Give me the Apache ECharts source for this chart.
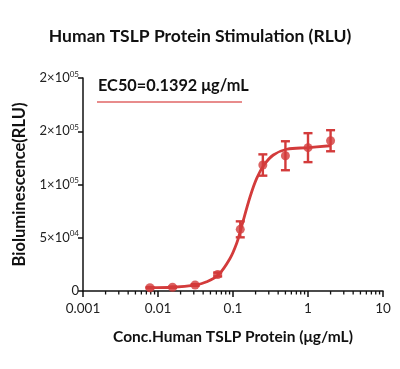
<!DOCTYPE html>
<html><head><meta charset="utf-8">
<script src="https://cdn.jsdelivr.net/npm/echarts@6/dist/echarts.min.js"></script>
<style>html,body{margin:0;padding:0;background:#fff}#c{width:400px;height:369px}</style>
</head><body><div id="c"></div>
<script>
// ---- data ----
const concentrations = [0.0078125, 0.015625, 0.03125, 0.0625, 0.125, 0.25, 0.5, 1, 2];
const meanRLU = [3100, 3500, 5600, 15500, 57900, 118300, 127000, 134600, 141100];
const errRLU = [600, 600, 800, 1800, 7500, 10000, 13600, 13600, 9900];
// fitted curve
const curveX = [0.0078, 0.0157, 0.0311, 0.0446, 0.0637, 0.0912, 0.112, 0.127, 0.169, 0.207, 0.259, 0.345, 0.52, 1.01, 1.96];
const curveY = [3100, 3500, 5600, 8700, 15000, 30500, 44800, 57900, 88500, 105800, 118300, 127700, 133100, 134600, 136400];
const yTickValues = [0, 50000, 100000, 150000, 200000];
const yTickLabels = ['0', '5×10{s|04}', '1×10{s|05}', '2×10{s|05}', '2×10{s|05}'];
const xTickValues = [0.001, 0.01, 0.1, 1, 10];
const xTickLabels = ['0.001', '0.01', '0.1', '1', '10'];
const minorTickValues = [];
[0.001, 0.01, 0.1, 1].forEach(d => { for (let m = 2; m <= 9; m++) minorTickValues.push(+(m * d).toPrecision(3)); });
const titleText = 'Human TSLP Protein Stimulation (RLU)';
const ec50Text = 'EC50=0.1392 μg/mL';
const xName = 'Conc.Human TSLP Protein (μg/mL)';
const yName = 'Bioluminescence(RLU)';

const RED = '#d33b3b';
const FONT = 'Lato';

const chart = echarts.init(document.getElementById('c'), null, {renderer: 'canvas'});
chart.setOption({
  animation: false,
  backgroundColor: '#fff',
  textStyle: {fontFamily: FONT},
  title: {
    text: titleText, left: 'center', top: 22,
    textStyle: {fontFamily: FONT, fontWeight: 'bold', fontSize: 17.5, color: '#111'}
  },
  grid: {left: 83, right: 17, top: 78, bottom: 78},
  xAxis: {
    type: 'log', logBase: 10, min: 0.001, max: 10,
    name: xName, nameLocation: 'middle', nameGap: 38,
    nameTextStyle: {fontFamily: FONT, fontWeight: 'bold', fontSize: 15.5, color: '#111'},
    axisLine: {lineStyle: {color: '#111', width: 1.5}},
    axisTick: {length: 6, lineStyle: {color: '#111', width: 1.5}},
    axisLabel: {
      fontSize: 13.5, color: '#222', margin: 11,
      formatter: v => { const i = xTickValues.findIndex(t => Math.abs(Math.log10(t) - Math.log10(v)) < 1e-6); return i >= 0 ? xTickLabels[i] : ''; }
    },
    splitLine: {show: false}
  },
  yAxis: {
    type: 'value', min: 0, max: 200000, interval: 50000,
    name: yName, nameLocation: 'middle', nameGap: 48, nameRotate: 90,
    nameTextStyle: {fontFamily: FONT, fontWeight: 'bold', fontSize: 16.5, color: '#111'},
    axisLine: {show: true, lineStyle: {color: '#111', width: 1.5}},
    axisTick: {show: true, length: 5, lineStyle: {color: '#111', width: 1.5}},
    axisLabel: {
      fontSize: 13, color: '#222', margin: 4,
      formatter: v => { const i = yTickValues.indexOf(v); return i >= 0 ? yTickLabels[i] : ''; },
      rich: {s: {fontSize: 8, color: '#222', padding: [0, 0, 8, 0]}}
    },
    splitLine: {show: false}
  },
  graphic: [
    {type: 'text', left: 98, top: 78, style: {text: ec50Text, fontFamily: FONT, fontWeight: 'bold', fontSize: 16.3, fill: '#111'}},
    {type: 'line', shape: {x1: 97, y1: 102, x2: 242, y2: 102}, style: {stroke: '#e06666', lineWidth: 1.5}}
  ],
  series: [
    {
      type: 'line', data: curveX.map((x, i) => [x, curveY[i]]), smooth: 0.35,
      showSymbol: false, lineStyle: {color: RED, width: 2.8}, z: 2
    },
    {
      type: 'custom', z: 3,
      data: concentrations.map((x, i) => [x, meanRLU[i] - errRLU[i], meanRLU[i] + errRLU[i]]),
      renderItem: (params, api) => {
        const lo = api.coord([api.value(0), api.value(1)]);
        const hi = api.coord([api.value(0), api.value(2)]);
        const w = 4.5;
        const st = {stroke: RED, lineWidth: 2.4};
        return {type: 'group', children: [
          {type: 'line', shape: {x1: lo[0], y1: lo[1], x2: hi[0], y2: hi[1]}, style: st},
          {type: 'line', shape: {x1: lo[0] - w, y1: lo[1], x2: lo[0] + w, y2: lo[1]}, style: st},
          {type: 'line', shape: {x1: hi[0] - w, y1: hi[1], x2: hi[0] + w, y2: hi[1]}, style: st}
        ]};
      }
    },
    {
      type: 'scatter', z: 4, data: concentrations.map((x, i) => [x, meanRLU[i]]),
      symbol: 'circle', symbolSize: 9, itemStyle: {color: RED}
    },
    {
      type: 'custom', z: 1, data: minorTickValues.map(v => [v, 0]),
      renderItem: (params, api) => {
        const p = api.coord([api.value(0), 0]);
        return {type: 'line', shape: {x1: p[0], y1: p[1], x2: p[0], y2: p[1] + 3.5}, style: {stroke: '#111', lineWidth: 1.3}};
      }
    }
  ]
});
</script></body></html>
